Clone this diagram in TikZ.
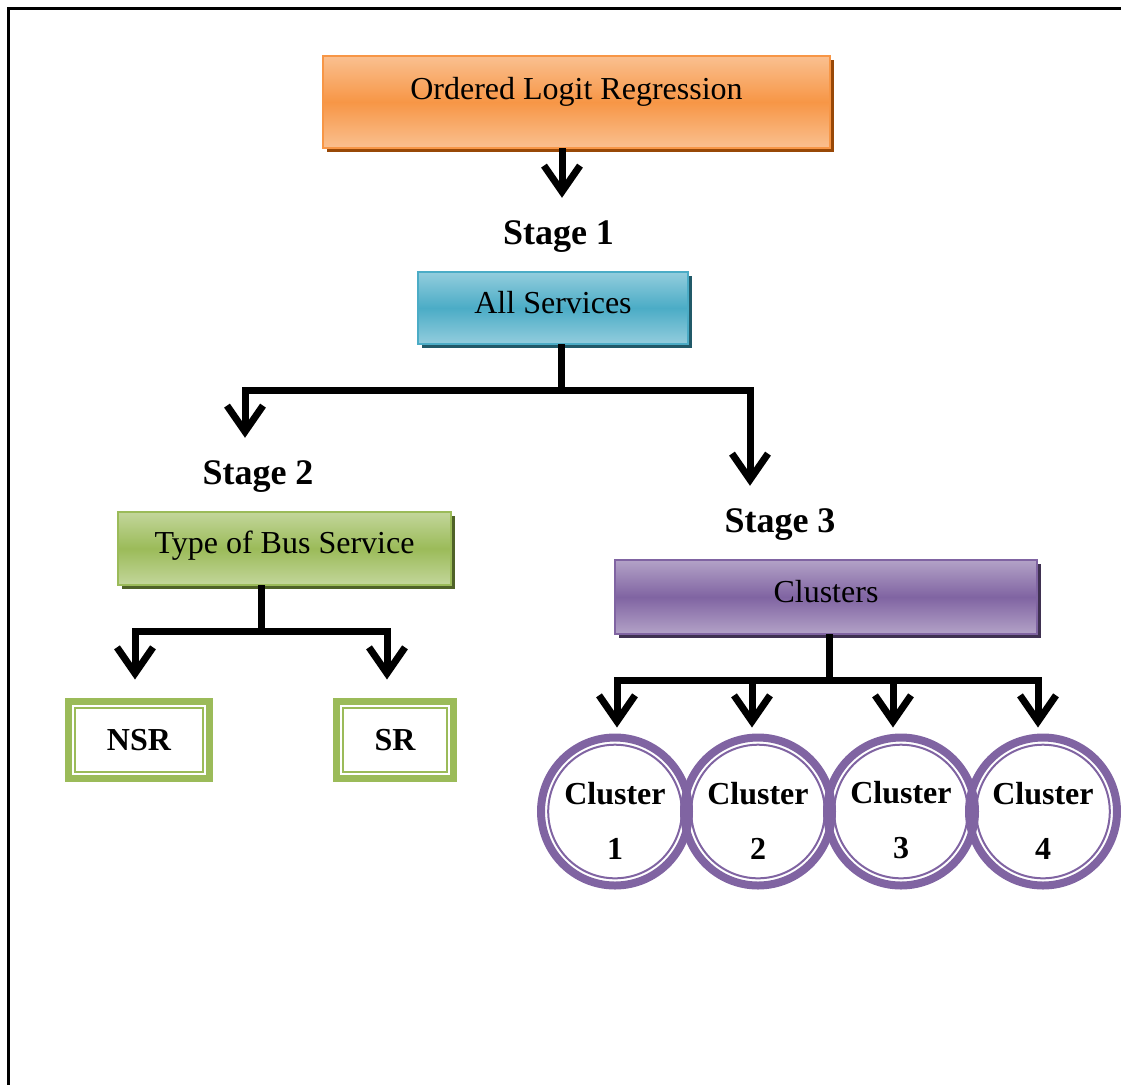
\documentclass[tikz,border=0pt]{standalone}
\usepackage{fontspec}
\setmainfont{Liberation Serif}
\usepackage{tikz}
\usetikzlibrary{arrows.meta,calc,positioning,shadows}
\definecolor{olrlight}{HTML}{FAC090}
\definecolor{olrmid}{HTML}{F79646}
\definecolor{olrdark}{HTML}{984807}
\definecolor{svclight}{HTML}{93CDDD}
\definecolor{svcmid}{HTML}{4BACC6}
\definecolor{svcdark}{HTML}{215968}
\definecolor{buslight}{HTML}{C3D69B}
\definecolor{busmid}{HTML}{9BBB59}
\definecolor{busdark}{HTML}{4F6228}
\definecolor{clulight}{HTML}{B3A2C7}
\definecolor{clumid}{HTML}{8064A2}
\definecolor{cludark}{HTML}{3F3151}

\begin{document}
\begin{tikzpicture}[x=0.5pt,y=-0.5pt,font=\fontsize{16}{19}\selectfont,
  box/.style={rectangle,inner sep=0pt,outer sep=0pt,line width=1pt,
    text height=10.5pt,text depth=5.5pt},
  olrbox/.style={box,draw=olrmid,top color=olrlight,bottom color=olrlight,middle color=olrmid,
    drop shadow={shadow xshift=2pt,shadow yshift=-2pt,fill=olrdark,opacity=1}},
  svcbox/.style={box,draw=svcmid,top color=svclight,bottom color=svclight,middle color=svcmid,
    drop shadow={shadow xshift=2pt,shadow yshift=-2pt,fill=svcdark,opacity=1}},
  busbox/.style={box,draw=busmid,top color=buslight,bottom color=buslight,middle color=busmid,
    drop shadow={shadow xshift=2pt,shadow yshift=-2pt,fill=busdark,opacity=1}},
  clubox/.style={box,draw=clumid,top color=clulight,bottom color=clulight,middle color=clumid,
    drop shadow={shadow xshift=2pt,shadow yshift=-2pt,fill=cludark,opacity=1}},
  stagelab/.style={font=\fontsize{18}{22}\selectfont\bfseries,inner sep=0pt,anchor=base},
  leafbox/.style={rectangle,draw=busmid,line width=3.5pt,inner sep=0pt,outer sep=0pt,
    minimum height=38.5pt,font=\fontsize{16}{19}\selectfont\bfseries,
    append after command={\pgfextra{\draw[busmid,line width=1pt]
      ([shift={(3.25pt,-3.25pt)}]\tikzlastnode.north west) rectangle
      ([shift={(-3.25pt,3.25pt)}]\tikzlastnode.south east);}}},
  clus/.style={circle,draw=clumid,line width=4pt,inner sep=0pt,outer sep=0pt,
    minimum size=74pt,align=center,font=\fontsize{16}{19}\selectfont\bfseries,
    append after command={\pgfextra{\draw[clumid,line width=1pt]
      (\tikzlastnode.center) circle[radius=33.4pt];}}},
  link/.style={line width=3.5pt},
  arr/.style={line width=3.5pt,-{Straight Barb[length=13pt,width=18pt]}}]
  \useasboundingbox (0,0) rectangle (1121,1084);
  % frame
  \draw[line width=1.5pt] (8.5,1090) -- (8.5,8.5) -- (1130,8.5);

  % boxes
  \node[olrbox,minimum width=253.5pt,minimum height=46pt,text depth=13.5pt] (olr) at (576.5,102) {Ordered Logit Regression};
  \node[svcbox,minimum width=135pt,minimum height=36pt] (svc) at (553,308) {All Services};
  \node[busbox,minimum width=166.5pt,minimum height=36.5pt] (bus) at (284.5,548.5) {Type of Bus Service};
  \node[clubox,minimum width=211pt,minimum height=37pt] (clu) at (826,597) {Clusters};

  \node[stagelab] (stage1) at (558.5,244) {Stage 1};
  \node[stagelab] (stage2) at (258,484) {Stage 2};
  \node[stagelab] (stage3) at (780,532) {Stage 3};

  \node[leafbox,minimum width=70.5pt] (nsr) at (139,740) {NSR};
  \node[leafbox,minimum width=58.5pt] (sr) at (395,740) {SR};

  \foreach \k/\cx in {1/615,2/758,3/901,4/1043}
    \node[clus] (c\k) at (\cx,811.5) {\rule{0pt}{20pt}Cluster\\[8.5pt]\k};

  % connectors
  \coordinate (j1) at (561,390);
  \coordinate (j2) at (261,631);
  \coordinate (j3) at (829,680);
  \draw[arr,shorten >=11pt] ([xshift=-7.25pt]olr.south) -- ([xshift=1.75pt]stage1.north);
  \draw[link] ([xshift=4pt]svc.south) -- (j1);
  \draw[arr,shorten >=11pt] (j1) -| ([xshift=-6.5pt]stage2.north);
  \draw[arr,shorten >=11pt] (j1) -| ([xshift=-15pt]stage3.north);
  \draw[link] ([xshift=-11.75pt]bus.south) -- (j2);
  \draw[arr,shorten >=11pt] (j2) -| ([xshift=-2pt]nsr.north);
  \draw[arr,shorten >=11pt] (j2) -| ([xshift=-4pt]sr.north);
  \draw[link] ([xshift=1.5pt]clu.south) -- (j3);
  \foreach \k/\dx in {1/1pt,2/-3pt,3/-4pt,4/-2.5pt}
    \draw[arr,shorten >=5pt] (j3) -| ([xshift=\dx]c\k.north);
\end{tikzpicture}
\end{document}
